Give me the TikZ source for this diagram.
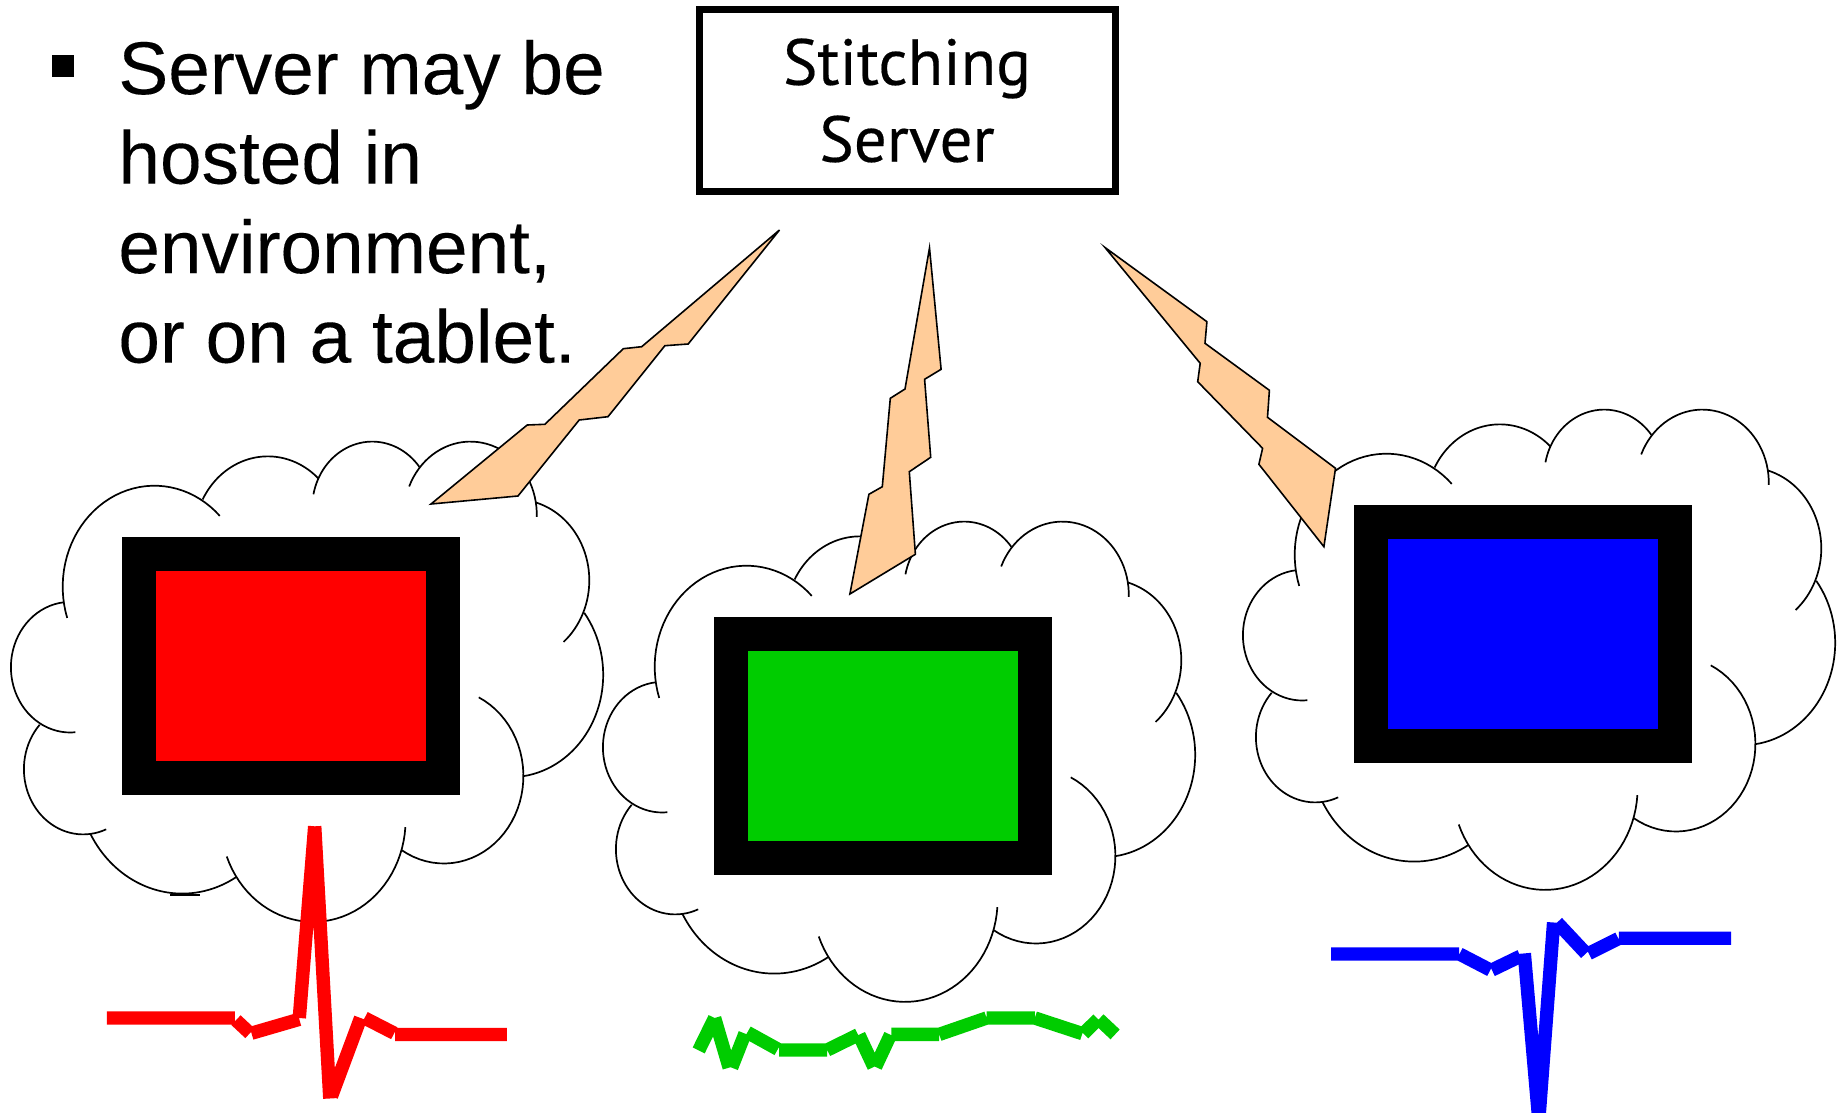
\documentclass[tikz,border=0pt]{standalone}
\usepackage{fontspec}
\setmainfont[FakeBold=0.15]{Liberation Sans}
\newfontfamily\boxfont[FakeBold=0.3]{PT Sans}
\usetikzlibrary{positioning}

\definecolor{boltfill}{HTML}{FFCC99}
\definecolor{tracegreen}{HTML}{00CC00}

\tikzset{
	tablet/.style={draw=black, line width=17pt, minimum width=152pt, minimum height=112pt, inner sep=0pt},
	puffline/.style={draw=black, line width=0.85pt},
	bolt/.style={draw=black, line width=0.8pt, fill=boltfill, line join=miter},
	trace/.style={line width=6.7pt, line cap=butt},
	notetext/.style={inner sep=0pt, align=left, font=\fontsize{37.4}{44.75}\selectfont},
	serverbox/.style={draw=black, line width=3.5pt, minimum width=208pt, minimum height=91pt, inner sep=0pt, align=center, font=\boxfont\fontsize{32.5}{38.5}\selectfont},
}

% centre x/y, radius x/y, first and last angle
\newcommand{\cloudpuffs}{32.4/49.7/91.7/101/162/315.5,
	145.8/0.65/73.8/81.3/208/313.4,
	250.2/-29.3/60/66.1/191.7/321.8,
	348.4/-22.2/66.4/73.2/202.8/361.7,
	393.8/43.4/73.5/81/286/409.4,
	388.3/137.8/92.9/102.4/-37.3/81.9,
	321.9/239/79.5/87.5/-64/122.1,
	191.1/283/92.5/101.9/4/159,
	60.2/241.2/104.8/115.4/58.9/151,
	-38.8/232.1/59.3/65.3/67.2/222.8,
	-51.8/130.2/59.3/65.3/85/263.5}

\begin{document}
\begin{tikzpicture}[x=0.5pt, y=-0.5pt]
	\useasboundingbox (0,0) rectangle (1843,1113);

	\node[fill=black, minimum size=11pt, inner sep=0pt] (bullet) at (63.2,66) {};
	\node[notetext, anchor=north west] (note) at (118,39.5) {Server may be\\hosted in\\environment,\\or on a tablet.};
	\node[serverbox] (server) at (907,100.5) {Stitching\\Server};

	\node[tablet, fill=red] (tabletr) at (291,666) {};
	\node[tablet, fill=tracegreen] (tabletg) at (883,746) {};
	\node[tablet, fill=blue] (tabletb) at (1523,634) {};

	\foreach \tablet in {tabletr,tabletg,tabletb} {
		\begin{scope}[shift={(\tablet.north west)}]
			\foreach \cx/\cy/\px/\py/\angA/\angB in \cloudpuffs
				\draw[puffline] plot[domain=\angA:\angB, samples=40] ({\cx+\px*cos(\x)},{\cy+\py*sin(\x)});
		\end{scope}
	}
	\draw[puffline] (170,895) -- (200,895);

	\draw[bolt] (779.5,230) -- (688.2,344) -- (664.9,345.7) -- (608,416.7) -- (579.2,420) -- (518,496) -- (431,504) -- (527.2,425) -- (544.9,424.3) -- (623.3,348.7) -- (641.7,346.7) -- cycle;
	\draw[bolt] (929.5,248) -- (941.1,369.3) -- (924.6,379.3) -- (930.7,457.3) -- (909.3,471.7) -- (915.4,554.3) -- (849.9,594) -- (868.9,494.3) -- (882.3,486.7) -- (890.3,398.3) -- (905,389) -- cycle;
	\draw[bolt] (1105,247.5) -- (1206.9,321.7) -- (1205,343.3) -- (1269.4,390.3) -- (1267.5,417.3) -- (1335.5,468.3) -- (1323.9,546.7) -- (1258.9,464.3) -- (1262.6,448.3) -- (1197.7,381.7) -- (1200.2,363.3) -- cycle;

	\draw[trace, red] (106.8,1018) -- (234.9,1018) (236,1020.2) -- (249.9,1033.2) (251.5,1033.2) -- (299.3,1019.3)
		(299.3,1018) -- (314.7,826.3) (314.7,826.3) -- (329.8,1098.5) (331.4,1096.4) -- (360.6,1018)
		(364.6,1018) -- (394.2,1033.2) (395,1034.5) -- (506.9,1034.5);
	\draw[trace, tracegreen] (698.7,1050.4) -- (714.6,1018) (714.6,1018) -- (729.2,1067.6) (731.6,1067.6) -- (745,1033.6)
		(747.4,1032.4) -- (777.8,1049.2) (779,1050) -- (827.2,1050) (827.2,1050) -- (858.1,1034.8)
		(858.9,1034.8) -- (873.9,1066.9) (875.5,1066.9) -- (890.5,1034.8) (891.3,1034.4) -- (939.2,1034.4)
		(939.2,1034.4) -- (986.6,1018) (986.6,1018) -- (1034.8,1018) (1034.8,1018) -- (1082.3,1033.6)
		(1083.5,1033.6) -- (1098.1,1019.2) (1098.9,1019.2) -- (1115.1,1034.4);
	\draw[trace, blue] (1331,954) -- (1459,954) (1459.5,954) -- (1490.3,970) (1491.9,970) -- (1520.4,956.2)
		(1524.3,953.4) -- (1538.8,1120) (1538.8,1120) -- (1553.6,922.5) (1557.1,922.5) -- (1586,953.4)
		(1588.8,953.4) -- (1618.4,938.6) (1618.8,938.2) -- (1731,938.2);
\end{tikzpicture}
\end{document}
